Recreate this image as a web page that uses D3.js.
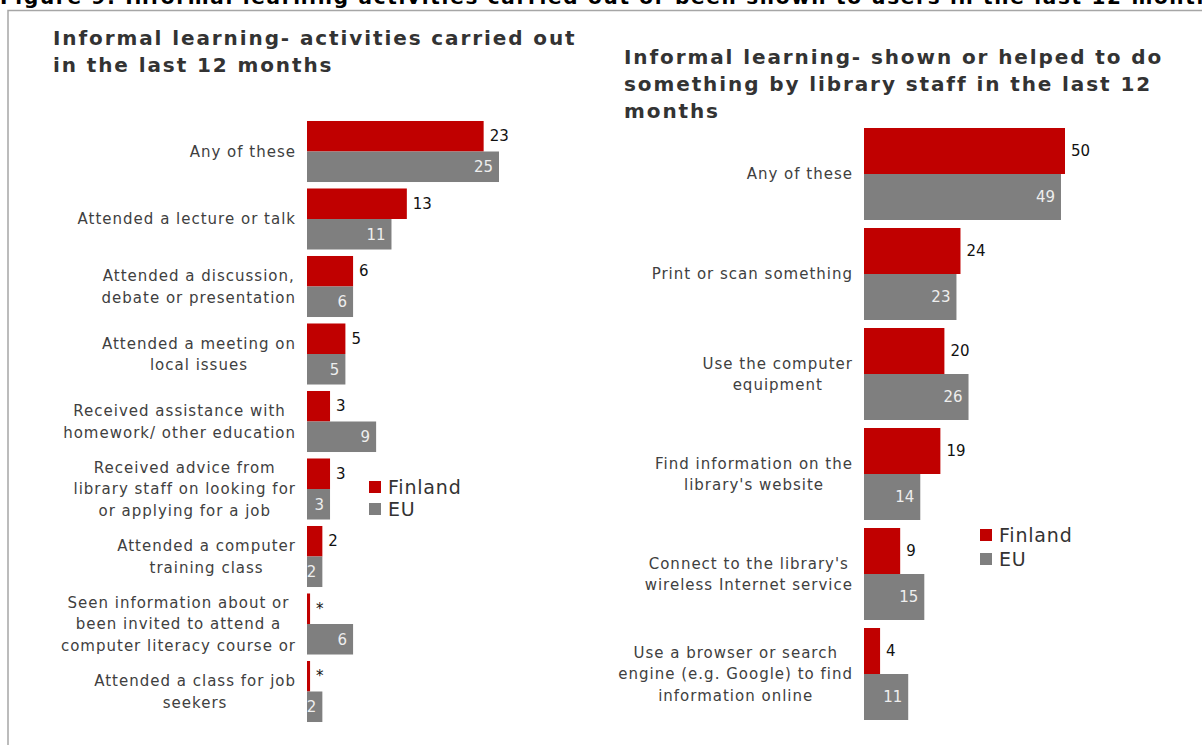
<!DOCTYPE html>
<html>
<head>
<meta charset="utf-8">
<script src="https://cdn.jsdelivr.net/npm/d3@7"></script>
<style>
  body { margin: 0; background: #fff; }
  svg { display: block; font-family: "DejaVu Sans", Verdana, sans-serif; }
</style>
</head>
<body>
<svg id="chart"></svg>
<script>
// Left panel: activities carried out
const leftCats = [
  "Any of these",
  "Attended a lecture or talk",
  "Attended a discussion,\ndebate or presentation",
  "Attended a meeting on\nlocal issues",
  "Received assistance with\nhomework/ other education",
  "Received advice from\nlibrary staff on looking for\nor applying for a job",
  "Attended a computer\ntraining class",
  "Seen information about or\nbeen invited to attend a\ncomputer literacy course or",
  "Attended a class for job\nseekers"
];
const leftFinland = [23, 13, 6, 5, 3, 3, 2, 0.4, 0.4];
const leftFinlandLabels = ["23", "13", "6", "5", "3", "3", "2", "*", "*"];
const leftEU = [25, 11, 6, 5, 9, 3, 2, 6, 2];

// Right panel: shown or helped by library staff
const rightCats = [
  "Any of these",
  "Print or scan something",
  "Use the computer\nequipment",
  "Find information on the\nlibrary's website",
  "Connect to the library's\nwireless Internet service",
  "Use a browser or search\nengine (e.g. Google) to find\ninformation online"
];
const rightFinland = [50, 24, 20, 19, 9, 4];
const rightEU = [49, 23, 26, 14, 15, 11];

const seriesNames = ["Finland", "EU"];
const colors = { Finland: "#c00000", EU: "#7f7f7f" };

const width = 1202, height = 745;
const svg = d3.select("#chart").attr("width", width).attr("height", height);

// frame + cut-off figure caption at the very top
svg.append("text")
  .attr("x", 0).attr("y", 4)
  .attr("font-weight", "bold").attr("font-size", 20).attr("letter-spacing", 1.7).attr("fill", "#000")
  .text("Figure 9: Informal learning activities carried out or been shown to users in the last 12 months");
svg.append("path")
  .attr("d", `M8,${height} V10.5 H${width}`)
  .attr("fill", "none").attr("stroke", "#a6a6a6").attr("stroke-width", 1.5);

function drawPanel(opts) {
  const g = svg.append("g");
  const x = d3.scaleLinear().domain([0, opts.max]).range(opts.xRange);
  const y = d3.scaleBand().domain(opts.cats).range(opts.yRange)
    .paddingInner(opts.pad).paddingOuter(opts.pad / 2);
  const bh = y.bandwidth() / 2;

  // title
  const title = g.append("text")
    .attr("font-weight", "bold").attr("font-size", 20).attr("letter-spacing", 1.9).attr("fill", "#333");
  opts.title.forEach((t, i) => {
    title.append("tspan").attr("x", opts.titleX).attr("y", opts.titleY + i * 27).text(t);
  });

  // category labels via axis, lines centred within their block
  const axisG = g.append("g")
    .attr("transform", `translate(${opts.xRange[0] - 12},0)`)
    .call(d3.axisLeft(y).tickSize(0).tickPadding(0))
    .attr("font-family", null).attr("font-size", null);
  axisG.select(".domain").remove();
  axisG.selectAll(".tick text")
    .attr("font-size", 15).attr("letter-spacing", 1).attr("fill", "#404040")
    .each(function(d) {
      const lines = d.split("\n");
      const t = d3.select(this).text(null).attr("dy", null).attr("x", null);
      const lh = 21.5;
      const spans = lines.map((l, i) => t.append("tspan")
        .attr("y", (i - (lines.length - 1) / 2) * lh)
        .attr("dy", "0.35em")
        .text(l));
      const maxW = d3.max(spans, s => s.node().getComputedTextLength());
      t.attr("text-anchor", "middle");
      spans.forEach(s => s.attr("x", -maxW / 2 + 1));
    });

  const rows = opts.cats.map((c, i) => ({ c, fi: opts.finland[i], eu: opts.eu[i], lab: opts.finLabels[i] }));

  // Finland bars
  g.selectAll("rect.fi").data(rows).join("rect")
    .attr("x", x(0)).attr("y", d => y(d.c))
    .attr("width", d => x(d.fi) - x(0)).attr("height", bh)
    .attr("fill", colors.Finland);
  // EU bars
  g.selectAll("rect.eu").data(rows).join("rect")
    .attr("x", x(0)).attr("y", d => y(d.c) + bh)
    .attr("width", d => x(d.eu) - x(0)).attr("height", bh)
    .attr("fill", colors.EU);

  // value labels
  g.selectAll("text.fi").data(rows).join("text")
    .attr("x", d => x(d.fi) + 6).attr("y", d => y(d.c) + bh / 2)
    .attr("dy", "0.35em").attr("font-size", 15).attr("fill", "#111")
    .text(d => d.lab);
  g.selectAll("text.eu").data(rows).join("text")
    .attr("x", d => x(d.eu) - 6).attr("y", d => y(d.c) + bh * 1.5)
    .attr("dy", "0.35em").attr("font-size", 15).attr("fill", "#eeeeee")
    .attr("text-anchor", "end")
    .text(d => d.eu);

  // legend
  const lg = g.append("g").attr("transform", `translate(${opts.legend[0]},${opts.legend[1]})`);
  seriesNames.forEach((s, i) => {
    lg.append("rect").attr("x", 0).attr("y", i * opts.legendStep - 6)
      .attr("width", 12).attr("height", 12).attr("fill", colors[s]);
    lg.append("text").attr("x", 19).attr("y", i * opts.legendStep)
      .attr("dy", "0.35em").attr("font-size", 19).attr("letter-spacing", 0.8).attr("fill", "#333")
      .text(s);
  });
}

drawPanel({
  cats: leftCats, finland: leftFinland, finLabels: leftFinlandLabels, eu: leftEU,
  max: 25, xRange: [307, 499], yRange: [117.75, 725.25], pad: 0.096,
  title: ["Informal learning- activities carried out", "in the last 12 months"],
  titleX: 53, titleY: 45,
  legend: [369, 487], legendStep: 22
});

drawPanel({
  cats: rightCats, finland: rightFinland, finLabels: rightFinland.map(String), eu: rightEU,
  max: 50, xRange: [864, 1065], yRange: [124, 724], pad: 0.08,
  title: ["Informal learning- shown or helped to do", "something by library staff in the last 12", "months"],
  titleX: 624, titleY: 64,
  legend: [980, 535], legendStep: 24
});
</script>
</body>
</html>
